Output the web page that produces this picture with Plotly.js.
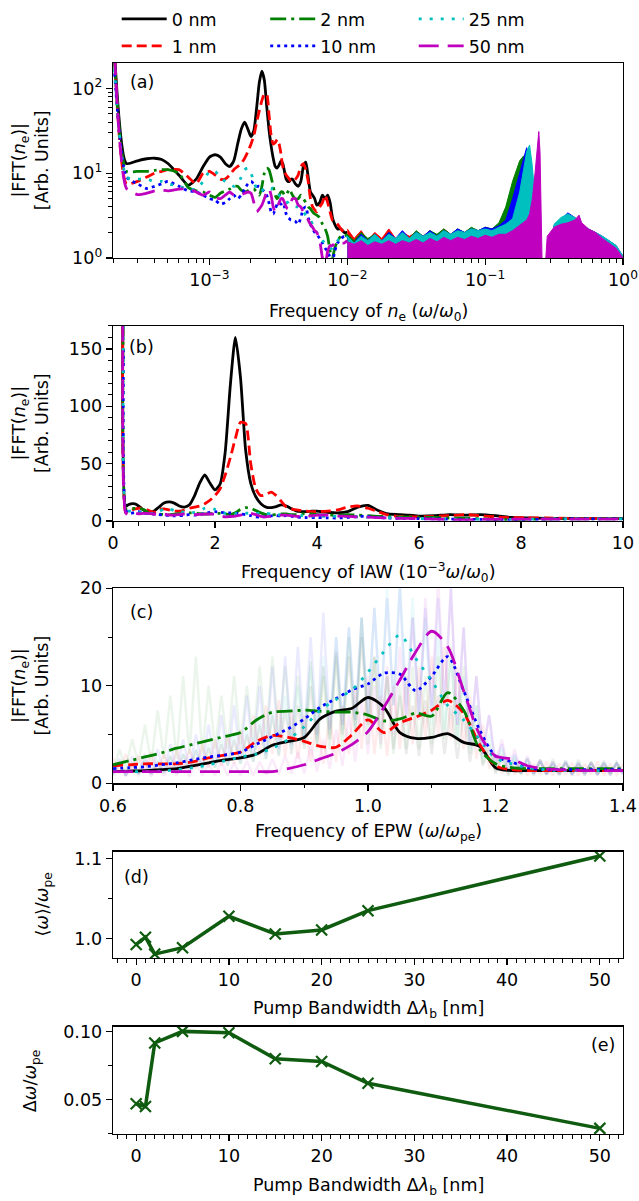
<!DOCTYPE html>
<html><head><meta charset="utf-8">
<script src="https://cdn.plot.ly/plotly-3.0.1.min.js"></script>
<style>html,body{margin:0;padding:0;background:#fff}#plot{width:639px;height:1201px}</style>
</head><body><div id="plot"></div>
<script>
// ---------------- DATA ----------------
const SERIES = ['0 nm','1 nm','2 nm','10 nm','25 nm','50 nm'];

// low-frequency part, x in units of 1e-3 omega/omega0
const LF_X = [0.205,0.25,0.3,0.35,0.4,0.45,0.5,0.6,0.7,0.8,0.9,1.0,1.1,1.2,1.3,1.4,1.5,1.6,1.7,1.8,1.9,2.0,2.1,2.2,2.3,2.4,2.5,2.6,2.7,2.8,2.9,3.0,3.1,3.2,3.3,3.4,3.5,3.6,3.7,3.8,3.9,4.0,4.2,4.4,4.6,4.8,5.0,5.2,5.4,5.6,5.8,6.0,6.3,6.6,6.9,7.2,7.5,7.8,8.1,8.5,9.0,9.5,10];
const LF_0  = [250,13,14,14.8,15,14.5,13,9.5,7.2,8.5,12,15.5,16.5,15.5,13,12,14,22,33,40,33,27,32,60,118,160,125,62,33,21,15,12,11.5,12.5,14,13,10.5,8.5,8,8,8.5,8.5,7.5,7,8,12,13.5,9,6,5.5,5,4.2,4.5,5.5,5,5.5,4.5,3,2.5,2.2,2.2,2,2];
const LF_1  = [250,7.5,8,9,10,10.5,11,11,9,7.5,10,10.5,9.5,8.5,8.5,9.5,11,12,13,15,18,22,28,40,55,72,86,85,50,28,22,23,25,22,17,12,10.5,9.5,9,8.5,8,8,8.5,9.5,12,13,11,8,5,4,3.7,3.5,4,4.5,5.5,4.5,3.5,2.8,2.7,2.5,2.2,2.0,2.0];
const LF_2  = [200,10.5,10.5,10.5,10.8,11,11,10,6.8,6.2,6.0,5.5,5.2,5.8,6.2,6.5,7,7,6.3,6,6.2,6.5,6.5,6,5.5,7,10,11.5,11,9,7,5.5,5,5.5,6,6,5.5,5.5,6,6.5,6,5.5,5,5,5.5,5,4.5,4,3.8,3.5,3.3,3.2,3,2.5,2.2,1.8,1.2,1.0,1.3,1.6,1.8,1.8,1.9];
const LF_10 = [150,9,7.5,6.6,7,7.5,8,7,6.2,6,5.5,5,4.8,4.3,4.5,5,5.5,5,5.5,6.5,7.5,8,7.5,7,7,6.5,6,5.5,4.5,3.5,3.3,3.8,4.3,4.5,4.3,4.5,4,3.3,3,2.9,2.8,2.8,2.7,2.5,3,3.8,4,3,2.5,2.2,2,1.9,1.7,1.5,1.3,1.2,1.0,0.9,1.2,1.5,1.7,1.8,1.8];
const LF_25 = [170,9,8.5,8.5,8,8,7.5,7,6.5,6.5,8,10.5,10.5,9,8,7.5,7,7.5,9,11,11.5,10,8,6.5,6,6.2,6.6,6.8,6.5,6.5,6.7,6.5,6,5.5,5.2,5,4.8,4.6,4.5,4.3,4.2,4.1,4,4,3.8,3.5,3.2,3,2.8,2.5,2.2,2,1.8,1.6,1.5,1.4,1.3,1.3,1.4,1.6,1.7,1.7,1.8];
const LF_50 = [250,6.6,5.6,5.8,6.2,6.3,6.2,6.5,6.6,6,5.5,6,5.2,5,5.5,6,5.5,5.5,5.6,5.8,6,5.8,4.5,3.5,3.8,4.2,5,6,6.6,5.5,4,3.5,4,4.5,5,5,4.5,4,3.8,4,4.5,5,5,4.2,4,3.5,3.3,2.8,2.5,2.3,2.1,2,1.6,1.0,0.8,1.2,1.4,1.4,1.5,1.5,1.5,1.5,1.6];

// high-frequency part (upper edge of the dense oscillation band), x in omega/omega0
const HF_X = [0.0100,0.0112,0.0126,0.0141,0.0158,0.0178,0.0200,0.0224,0.0251,0.0282,0.0316,0.0355,0.0398,0.0447,0.0501,0.0562,0.0631,0.0708,0.0794,0.0891,0.100,0.112,0.126,0.141,0.158,0.178,0.190,0.200,0.210,0.220,0.230,0.240,0.245,0.250,0.255,0.260,0.270,0.282,0.316,0.355,0.398,0.447,0.480,0.501,0.562,0.631,0.708,0.794,0.891,1.000];
const HF_0  = [1.7,1.5,1.9,1.6,1.8,1.5,1.9,1.6,2.0,1.6,1.9,1.7,2.0,1.7,2.0,1.8,2.0,1.8,2.0,1.9,2.1,2.0,2.2,2.3,2.4,2.6,2.5,2.4,2.6,3.0,4.6,3.5,2.0,0.6,0.6,0.6,0.6,0.6,1.5,2.0,2.5,2.2,2.0,1.9,1.8,1.6,1.5,1.4,1.2,1.0];
const HF_1  = [2.2,1.7,2.1,1.6,2.0,1.7,2.2,1.7,2.0,1.8,2.0,1.8,2.1,1.8,2.2,1.9,2.1,2.0,2.2,2.0,2.3,2.1,2.4,2.5,2.6,2.8,2.7,2.6,2.5,2.4,2.5,2.3,2.0,0.6,0.6,0.6,0.6,0.6,2.0,2.3,2.6,2.4,2.3,2.1,2.0,1.8,1.6,1.5,1.3,1.0];
const HF_2  = [1.9,1.6,2.0,1.7,1.9,1.6,2.0,1.7,2.0,1.7,2.1,1.8,2.1,1.9,2.2,1.9,2.2,2.0,2.3,2.1,2.3,2.2,2.6,4.0,8.0,14.0,16.0,14.0,9.0,5.0,3.0,2.5,2.2,0.6,0.6,0.6,0.6,0.6,2.2,2.6,3.0,2.7,2.5,2.3,2.1,1.9,1.7,1.5,1.3,1.0];
const HF_10 = [1.8,1.5,1.9,1.6,1.9,1.6,2.0,1.7,2.1,1.7,2.0,1.8,2.1,1.8,2.1,1.9,2.2,2.0,2.2,2.1,2.3,2.2,2.4,2.8,5.0,10.0,15.0,20.0,14.0,8.0,4.0,3.0,2.5,0.6,0.6,0.6,0.6,0.6,2.4,2.9,3.4,3.0,2.7,2.4,2.2,2.0,1.8,1.6,1.4,1.05];
const HF_25 = [1.8,1.5,1.8,1.6,1.9,1.6,1.9,1.7,2.0,1.7,2.0,1.8,2.0,1.8,2.1,1.9,2.1,2.0,2.2,2.1,2.2,2.1,2.3,2.5,2.9,6.0,11.0,18.0,21.5,12.0,5.0,3.5,2.5,0.6,0.6,0.6,0.6,0.6,2.5,3.0,3.3,3.0,2.7,2.5,2.2,2.0,1.8,1.6,1.4,1.05];
const HF_50 = [1.55,1.45,1.6,1.4,1.55,1.45,1.6,1.45,1.6,1.5,1.65,1.5,1.7,1.55,1.75,1.6,1.75,1.65,1.8,1.7,1.85,1.75,1.9,1.9,2.1,2.4,2.6,2.8,3.3,5.0,10.0,22.0,31.0,18.0,4.0,0.6,0.6,1.8,2.3,2.5,2.6,2.8,3.2,2.6,2.2,2.0,1.7,1.5,1.3,1.0];

// EPW spectra (smoothed), x in omega/omega_pe
const EPW_X = [0.6,0.625,0.65,0.675,0.7,0.725,0.75,0.775,0.8,0.825,0.85,0.875,0.9,0.925,0.95,0.975,1.0,1.025,1.05,1.075,1.1,1.125,1.15,1.175,1.2,1.225,1.25,1.275,1.3,1.325,1.35,1.375,1.4];
const EPW_0  = [1.2,1.25,1.3,1.4,1.5,1.8,2.1,2.4,2.6,3.0,3.9,4.3,4.7,6.6,7.4,7.7,8.8,7.8,5.2,4.6,4.7,5.1,4.2,3.8,1.6,1.3,1.3,1.3,1.3,1.3,1.3,1.3,1.3];
const EPW_1  = [1.8,1.9,2.0,2.0,2.0,2.2,2.6,2.9,3.2,4.3,4.9,4.7,4.3,3.8,3.7,5.0,6.5,5.2,6.2,6.8,7.5,8.5,7.2,4.0,1.8,1.4,1.3,1.3,1.3,1.3,1.3,1.3,1.3];
const EPW_2  = [1.9,2.3,2.7,3.1,3.6,4.0,4.4,4.8,5.2,6.5,7.3,7.4,7.5,7.4,7.3,7.3,7.0,6.4,6.6,7.2,6.9,9.3,7.5,3.5,2.0,1.6,1.5,1.5,1.5,1.5,1.5,1.5,1.5];
const EPW_10 = [1.5,1.6,1.7,1.9,2.1,2.4,2.7,2.9,3.2,4.0,4.8,5.6,6.6,7.8,8.7,9.6,10.2,11.3,11.2,9.5,11.0,13.0,9.5,5.5,2.8,2.2,1.6,1.4,1.4,1.4,1.4,1.4,1.4];
const EPW_25 = [1.2,1.2,1.2,1.25,1.4,1.6,1.9,2.3,2.7,3.0,3.6,4.5,5.8,7.5,8.6,9.6,11.4,13.5,15.2,12.8,10.5,8.0,6.5,4.5,2.6,2.0,1.6,1.4,1.3,1.3,1.3,1.3,1.3];
const EPW_50 = [1.2,1.2,1.2,1.2,1.2,1.2,1.2,1.2,1.2,1.2,1.2,1.5,1.9,2.5,3.1,4.0,5.3,7.8,10.6,13.5,15.6,14.0,9.5,5.0,2.8,2.5,1.8,1.5,1.4,1.35,1.3,1.3,1.3];

// EPW raw (unsmoothed, faint)
const RAW_X = [0.60,0.61,0.62,0.63,0.64,0.65,0.66,0.67,0.68,0.69,0.70,0.71,0.72,0.73,0.74,0.75,0.76,0.77,0.78,0.79,0.80,0.81,0.82,0.83,0.84,0.85,0.86,0.87,0.88,0.89,0.90,0.91,0.92,0.93,0.94,0.95,0.96,0.97,0.98,0.99,1.00,1.01,1.02,1.03,1.04,1.05,1.06,1.07,1.08,1.09,1.10,1.11,1.12,1.13,1.14,1.15,1.16,1.17,1.18,1.19,1.20,1.21,1.22,1.23,1.24,1.25,1.26,1.27,1.28,1.29,1.30,1.31,1.32,1.33,1.34,1.35,1.36,1.37,1.38,1.39,1.40];
const RAW_0  = [1.0,2.2,0.8,2.0,1.0,2.4,0.9,2.2,1.1,2.8,1.0,3.0,1.3,3.4,1.5,3.6,1.6,4.0,1.8,4.4,2.0,5.0,2.2,6.0,2.5,7.0,2.8,7.5,3.0,8.0,3.5,10.0,4.0,12.0,4.5,13.5,5.0,13.0,5.5,15.0,6.0,13.0,5.0,11.0,3.5,9.0,3.0,8.0,2.8,8.5,3.0,9.0,3.0,8.0,2.5,7.0,2.2,6.0,1.8,3.5,1.0,2.5,0.8,2.2,0.9,2.0,0.8,2.2,0.9,2.0,0.8,2.1,0.9,2.0,0.8,2.2,0.9,2.0,0.8,2.1,1.0];
const RAW_1  = [2.6,1.0,3.0,1.2,2.8,1.1,3.2,1.0,3.0,1.3,3.4,1.2,3.5,1.5,4.0,1.6,4.5,1.8,5.0,2.0,5.5,2.4,7.0,2.8,8.0,3.0,8.5,2.8,7.5,2.5,7.0,2.2,6.5,2.0,7.0,2.2,8.0,3.0,10.0,3.5,11.0,3.0,9.0,2.8,10.0,3.5,11.0,4.0,12.0,4.5,13.0,5.0,14.0,4.5,12.0,3.5,9.0,2.5,6.0,1.5,3.0,1.0,2.4,0.9,2.2,0.8,2.0,0.9,2.2,0.8,2.0,0.9,2.1,0.8,2.0,0.9,2.2,0.8,2.0,0.9,2.0];
const RAW_2  = [1.0,3.5,1.5,4.5,2.0,6.0,2.0,7.5,2.5,9.0,2.5,11.0,3.0,13.0,3.0,10.0,3.5,9.0,3.5,11.0,4.0,10.0,4.0,12.0,4.5,13.0,4.5,12.0,4.0,11.0,4.0,12.5,3.5,11.0,3.5,13.0,3.5,15.0,4.0,17.0,4.0,13.0,3.5,11.0,3.0,10.0,3.5,12.0,3.5,11.0,4.0,13.0,4.5,14.0,4.0,12.0,3.0,8.0,2.0,4.0,1.2,3.0,1.0,2.5,1.0,2.6,1.0,2.4,1.0,2.5,1.0,2.3,1.0,2.4,1.0,2.2,1.0,2.3,1.0,2.2,1.2];
const RAW_10 = [1.0,2.5,0.8,2.8,1.0,3.0,1.0,3.5,1.2,4.0,1.4,4.5,1.5,5.0,1.8,6.0,2.0,7.0,2.2,8.0,2.5,9.0,2.8,10.0,3.0,12.0,3.5,13.0,4.0,14.0,4.5,15.0,5.0,17.5,5.5,15.0,6.0,16.0,6.5,17.0,7.0,18.0,7.0,19.0,8.0,20.0,7.0,17.0,6.5,18.0,7.0,19.0,8.0,20.0,6.0,16.0,4.0,11.0,3.0,7.0,2.0,4.0,1.2,3.0,1.0,2.5,1.0,2.4,0.9,2.2,1.0,2.3,0.9,2.2,1.0,2.1,0.9,2.2,1.0,2.1,1.0];
const RAW_25 = [0.8,2.0,0.8,2.2,0.9,2.3,0.9,2.5,1.0,2.8,1.0,3.0,1.2,3.5,1.4,4.0,1.6,4.5,1.8,5.0,2.0,5.5,2.2,6.5,2.5,7.5,3.0,9.0,3.5,10.0,4.0,12.0,4.5,13.0,5.0,15.0,5.5,16.0,6.0,17.0,7.0,18.0,7.5,20.0,8.0,21.0,8.0,19.0,7.0,17.0,6.0,15.0,5.5,13.0,4.5,11.0,3.5,8.0,2.5,5.0,1.8,3.5,1.2,2.8,1.0,2.4,0.9,2.2,0.9,2.0,0.9,2.1,0.8,2.0,0.9,2.0,0.8,2.1,0.9,2.0,0.9];
const RAW_50 = [0.8,1.8,0.7,1.9,0.8,1.8,0.7,2.0,0.8,1.9,0.8,2.0,0.7,2.1,0.8,2.0,0.8,2.2,0.8,2.1,0.8,2.3,0.8,2.2,0.9,2.5,0.9,2.8,1.0,3.2,1.0,3.8,1.2,4.5,1.5,5.5,1.8,7.0,2.2,8.5,3.0,10.0,4.0,12.0,5.0,14.0,6.0,17.0,7.0,19.0,8.0,21.0,8.0,20.0,6.0,16.0,4.0,11.0,3.0,7.0,2.0,4.5,1.5,3.5,1.2,2.8,1.0,2.4,0.9,2.2,0.9,2.1,0.8,2.0,0.9,2.1,0.8,2.0,0.9,2.0,0.9];

// pump bandwidth scans
const BW = [0,1,2,5,10,15,20,25,50];
const MEAN_W = [0.993,1.002,0.981,0.989,1.028,1.006,1.011,1.035,1.103];
const DELTA_W = [0.047,0.045,0.0915,0.100,0.099,0.080,0.078,0.062,0.029];

// tick labels
const A_XTICKVALS = [1e-3,1e-2,1e-1,1];
const A_XTICKTEXT = ['10<sup>−3</sup>','10<sup>−2</sup>','10<sup>−1</sup>','10<sup>0</sup>'];
const A_YTICKVALS = [1,10,100];
const A_YTICKTEXT = ['10<sup>0</sup>','10<sup>1</sup>','10<sup>2</sup>'];

// ---------------- STYLE / LAYOUT ----------------
const LF = [LF_0,LF_1,LF_2,LF_10,LF_25,LF_50];
const HF = [HF_0,HF_1,HF_2,HF_10,HF_25,HF_50];
const EPW = [EPW_0,EPW_1,EPW_2,EPW_10,EPW_25,EPW_50];
const RAW = [RAW_0,RAW_1,RAW_2,RAW_10,RAW_25,RAW_50];
const COLORS = ['#000000','#ff0000','#008000','#0000ff','#00bfbf','#bf00bf'];
const DASHES = ['solid','10px,5px','16px,5px,3px,5px','3px,4px','3px,8px','20px,9px'];
const LEGS = ['legend','legend2','legend','legend2','legend','legend2'];
const DG = '#0f5b0f';

const W=639,H=1201, ML=113.3, MR=639-623.4, MT=63, MB=1201-1134.3;
const GW=W-ML-MR, GH=H-MT-MB;
const py = p => (H-MB-p)/GH;
const pxx = p => (p-ML)/GW;
const ydom = (t,b) => [py(b), py(t)];
const FONT = {family:'DejaVu Sans, sans-serif', size:17.5, color:'#000'};
const LW = 2.8;

function ax(extra){
  return Object.assign({showline:true, linecolor:'#000', linewidth:1.3, mirror:true,
    ticks:'outside', ticklen:6, tickwidth:1.3, tickcolor:'#000', showgrid:false,
    zeroline:false, tickfont:FONT, fixedrange:true}, extra);
}
const minor = d => ({ticks:'outside', ticklen:3.5, tickwidth:1, tickcolor:'#000', dtick:d, showgrid:false});

const traces = [];
// (a) and (b)
for (let i=0;i<6;i++){
  traces.push({x: LF_X.map(v=>v*1e-3), y: LF[i], xaxis:'x', yaxis:'y', type:'scatter', mode:'lines',
    name: SERIES[i], legend: LEGS[i], showlegend:true,
    line:{color:COLORS[i], width:LW, dash:DASHES[i], shape:'spline', smoothing:0.6}});
  const base = HF_X.map(()=>0.5);
  traces.push({x: HF_X.concat(HF_X.slice().reverse()), y: HF[i].concat(base), xaxis:'x', yaxis:'y',
    type:'scatter', mode:'lines', fill:'toself', fillcolor:COLORS[i], showlegend:false,
    line:{color:COLORS[i], width:1}});
}
for (let i=0;i<6;i++){
  traces.push({x: LF_X, y: LF[i], xaxis:'x2', yaxis:'y2', type:'scatter', mode:'lines', showlegend:false,
    line:{color:COLORS[i], width:LW, dash:DASHES[i], shape:'spline', smoothing:0.6}});
}
// (c)
for (let i=0;i<6;i++){
  traces.push({x: RAW_X, y: RAW[i], xaxis:'x3', yaxis:'y3', type:'scatter', mode:'lines', showlegend:false,
    opacity:0.08, line:{color:COLORS[i], width:2.5}});
}
for (let i=0;i<6;i++){
  traces.push({x: EPW_X, y: EPW[i], xaxis:'x3', yaxis:'y3', type:'scatter', mode:'lines', showlegend:false,
    line:{color:COLORS[i], width:LW, dash:DASHES[i], shape:'spline', smoothing:0.8}});
}
// (d), (e)
traces.push({x: BW, y: MEAN_W, xaxis:'x4', yaxis:'y4', type:'scatter', mode:'lines+markers', showlegend:false,
  line:{color:DG, width:3.5}, marker:{symbol:'x-thin', size:11, line:{color:DG, width:2.2}}});
traces.push({x: BW, y: DELTA_W, xaxis:'x5', yaxis:'y5', type:'scatter', mode:'lines+markers', showlegend:false,
  line:{color:DG, width:3.5}, marker:{symbol:'x-thin', size:11, line:{color:DG, width:2.2}}});

const ann = [];
function label(text, xpx, ypx, anchor){ ann.push({text, x:pxx(xpx), y:py(ypx), xref:'paper', yref:'paper', xanchor:anchor||'left', yanchor:'middle', showarrow:false, font:FONT}); }
function xtitle(text, ypx){ ann.push({text, x:0.5, y:py(ypx), xref:'paper', yref:'paper', xanchor:'center', yanchor:'middle', showarrow:false, font:FONT}); }
function ytitle(text, xpx, ypx){ ann.push({text, x:pxx(xpx), y:py(ypx), xref:'paper', yref:'paper', xanchor:'center', yanchor:'middle', textangle:-90, showarrow:false, font:FONT}); }
label('(a)',128.4,82); label('(b)',127.2,347); label('(c)',128.4,612); label('(d)',122.3,877); label('(e)',617.3,1045,'right');
xtitle('Frequency of <i>n</i><sub>e</sub> (<i>ω</i>/<i>ω</i><sub>0</sub>)', 313);
xtitle('Frequency of IAW (10<sup>−3</sup><i>ω</i>/<i>ω</i><sub>0</sub>)', 573);
xtitle('Frequency of EPW (<i>ω</i>/<i>ω</i><sub>pe</sub>)', 832.7);
xtitle('Pump Bandwidth Δ<i>λ</i><sub>b</sub> [nm]', 1010);
xtitle('Pump Bandwidth Δ<i>λ</i><sub>b</sub> [nm]', 1186.7);
const YT = '|FFT(<i>n</i><sub>e</sub>)|<br>[Arb. Units]';
ytitle(YT, 31, 160.5); ytitle(YT, 31, 423.5); ytitle(YT, 31, 686);
ytitle('⟨<i>ω</i>⟩/<i>ω</i><sub>pe</sub>', 44, 905);
ytitle('Δ<i>ω</i>/<i>ω</i><sub>pe</sub>', 32, 1080.7);

const legBase = {orientation:'h', xanchor:'left', yanchor:'top', font:FONT, itemwidth:45, entrywidth:88.5, entrywidthmode:'pixels',
  bgcolor:'rgba(0,0,0,0)', borderwidth:0, x:pxx(117)};

const layout = {
  width:W, height:H, margin:{l:ML, r:MR, t:MT, b:MB, autoexpand:false},
  paper_bgcolor:'#fff', plot_bgcolor:'#fff', font:FONT, showlegend:true,
  legend: Object.assign({}, legBase, {y:py(1)}),
  legend2: Object.assign({}, legBase, {y:py(28)}),
  xaxis: ax({type:'log', domain:[0,1], anchor:'y', range:[-3.70,0], tickmode:'array', tickvals:A_XTICKVALS, ticktext:A_XTICKTEXT, minor:minor('D1')}),
  yaxis: ax({type:'log', domain:ydom(63,258), anchor:'x', range:[0,2.30], tickmode:'array', tickvals:A_YTICKVALS, ticktext:A_YTICKTEXT, minor:minor('D1')}),
  xaxis2: ax({domain:[0,1], anchor:'y2', range:[0,10], dtick:2, minor:minor(0.5)}),
  yaxis2: ax({domain:ydom(326,521), anchor:'x2', range:[0,170], dtick:50, minor:minor(10)}),
  xaxis3: ax({domain:[0,1], anchor:'y3', range:[0.6,1.4], dtick:0.2, tick0:0.6, tickformat:'.1f', minor:minor(0.1)}),
  yaxis3: ax({domain:ydom(588.5,783.5), anchor:'x3', range:[0,20], dtick:10, minor:minor(5)}),
  xaxis4: ax({domain:[0,1], anchor:'y4', range:[-2.5,52.5], dtick:10, minor:minor(1)}),
  yaxis4: ax({domain:ydom(852,958.3), anchor:'x4', range:[0.9761,1.1082], dtick:0.1, tick0:1.0, tickformat:'.1f', minor:minor(0.05)}),
  xaxis5: ax({domain:[0,1], anchor:'y5', range:[-2.5,52.5], dtick:10, minor:minor(1)}),
  yaxis5: ax({domain:ydom(1027,1134.3), anchor:'x5', range:[0.0249,0.1034], dtick:0.05, tickformat:'.2f', minor:minor(0.025)}),
  annotations: ann
};
Plotly.newPlot('plot', traces, layout, {displayModeBar:false, staticPlot:true});
</script></body></html>
